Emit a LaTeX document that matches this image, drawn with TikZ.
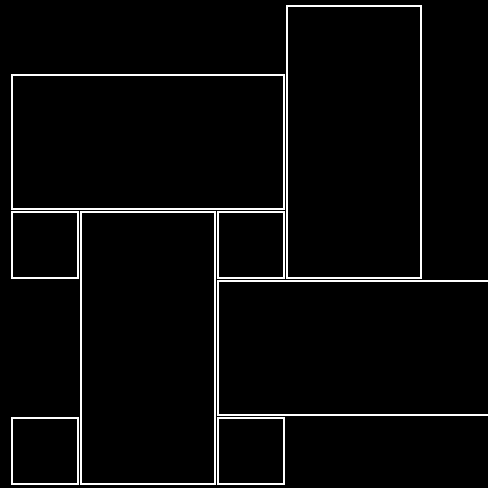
\documentclass[tikz,border=0pt]{standalone}
\usetikzlibrary{positioning}

\tikzset{block/.style={draw=white,line width=1.2pt}}

\begin{document}
\begin{tikzpicture}[x=1pt,y=-1pt]
  \fill[black] (0,0) rectangle (488,488);
  \clip (0,0) rectangle (488,488);
  \useasboundingbox (0,0) rectangle (488,488);
  % top row
  \draw[block] (287,6) rectangle (421,278);
  \draw[block] (12,75) rectangle (284,209);
  % middle
  \draw[block] (12,212) rectangle (78,278);
  \draw[block] (81,212) rectangle (215,484);
  \draw[block] (218,212) rectangle (284,278);
  \draw[block] (218,281) rectangle (500,415);
  % bottom
  \draw[block] (12,418) rectangle (78,484);
  \draw[block] (218,418) rectangle (284,484);
\end{tikzpicture}
\end{document}
